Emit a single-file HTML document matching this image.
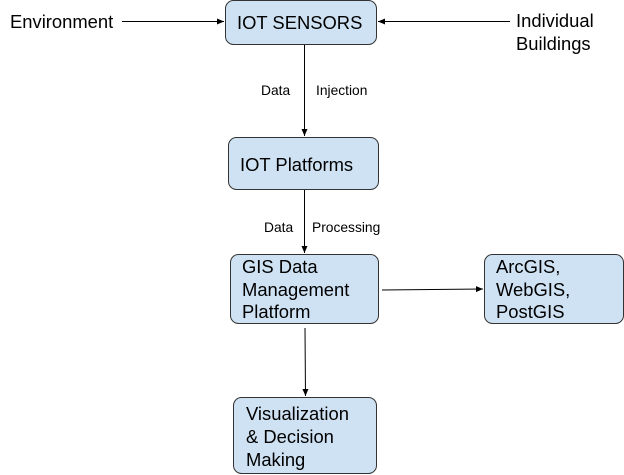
<!DOCTYPE html>
<html><head><style>
body{margin:0;background:#fff;}
svg{display:block;}
text{font-family:"Liberation Sans",Arial,sans-serif;fill:#000;}
.b{fill:#cfe2f3;stroke:#333;stroke-width:1;}
.l{stroke:#000;stroke-width:1;fill:none;}
</style></head><body>
<svg width="624" height="475" viewBox="0 0 624 475" xmlns="http://www.w3.org/2000/svg">
<defs><marker id="a" markerWidth="8" markerHeight="8" refX="7" refY="3" orient="auto" markerUnits="userSpaceOnUse"><path d="M0,0 L7,3 L0,6z" fill="#000"/></marker></defs>
<rect class="b" x="225.5" y="0.5" width="151" height="44" rx="8"/>
<rect class="b" x="228.5" y="137.5" width="150" height="52" rx="8"/>
<rect class="b" x="230.5" y="254.5" width="148" height="69" rx="8"/>
<rect class="b" x="484.5" y="254.5" width="139" height="69" rx="8"/>
<rect class="b" x="233.5" y="397.5" width="143" height="76" rx="8"/>
<line class="l" x1="122" y1="21.5" x2="224" y2="21.5" marker-end="url(#a)"/>
<line class="l" x1="510" y1="21.5" x2="378" y2="21.5" marker-end="url(#a)"/>
<line class="l" x1="304.5" y1="45" x2="304.5" y2="136" marker-end="url(#a)"/>
<line class="l" x1="304.5" y1="190" x2="304.5" y2="253" marker-end="url(#a)"/>
<line class="l" x1="305" y1="328" x2="305.5" y2="396" marker-end="url(#a)"/>
<line class="l" x1="382" y1="290" x2="483" y2="289" marker-end="url(#a)"/>
<g font-size="18.4">
<text x="10" y="28">Environment</text>
<text x="516" y="27">Individual</text>
<text x="516" y="50">Buildings</text>
<text x="237" y="29">IOT SENSORS</text>
<text x="240" y="171">IOT Platforms</text>
<text x="242" y="273">GIS Data</text>
<text x="242" y="296">Management</text>
<text x="242" y="318">Platform</text>
<text x="496" y="273">ArcGIS,</text>
<text x="496" y="296">WebGIS,</text>
<text x="496" y="318">PostGIS</text>
<text x="246" y="420">Visualization</text>
<text x="246" y="443">&amp; Decision</text>
<text x="246" y="466">Making</text>
</g>
<g font-size="13.8">
<text x="261" y="95">Data</text>
<text x="316" y="95">Injection</text>
<text x="264" y="232">Data</text>
<text x="312" y="232">Processing</text>
</g>
</svg>
</body></html>
